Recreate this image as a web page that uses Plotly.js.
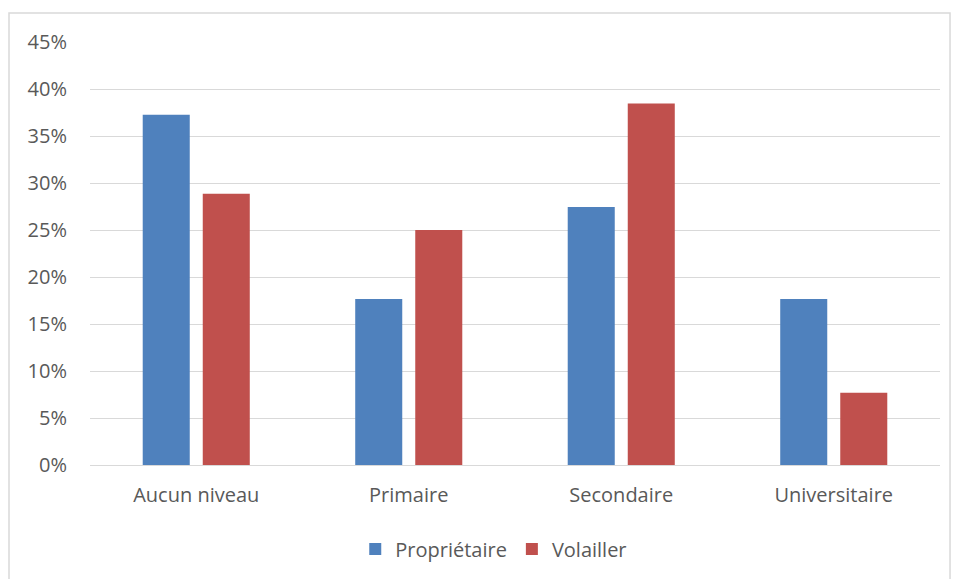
<!DOCTYPE html>
<html>
<head>
<meta charset="utf-8">
<script src="https://cdn.plot.ly/plotly-3.0.1.min.js"></script>
<style>
html,body{margin:0;padding:0;background:#fff;}
#chart{width:956px;height:579px;}
</style>
</head>
<body>
<div id="chart"></div>
<script>
const categories = ["Aucun niveau", "Primaire", "Secondaire", "Universitaire"];
const proprietaire = [0.3725, 0.1765, 0.2745, 0.1765];
const volailler = [0.2885, 0.25, 0.3846, 0.0769];
const seriesNames = ["Propriétaire", "Volailler"];
const tickVals = [0, 0.05, 0.10, 0.15, 0.20, 0.25, 0.30, 0.35, 0.40, 0.45];
const tickText = ["0%", "5%", "10%", "15%", "20%", "25%", "30%", "35%", "40%", "45%"];

const font = {family: "Open Sans, Liberation Sans, sans-serif", size: 20, color: "#595959"};

const data = [
  {type: "bar", x: categories, y: proprietaire, name: seriesNames[0],
   marker: {color: "#4F81BD"}, hoverinfo: "none"},
  {type: "bar", x: categories, y: volailler, name: seriesNames[1],
   marker: {color: "#C0504D"}, hoverinfo: "none"}
];

const layout = {
  width: 956, height: 579,
  margin: {l: 90, r: 16, t: 42, b: 113},
  paper_bgcolor: "#fff", plot_bgcolor: "#fff",
  font: font,
  barmode: "group",
  bargap: 0.435,
  bargroupgap: 0.2165,
  showlegend: true,
  legend: {orientation: "h", x: 0.475, xanchor: "center", y: -0.196, yanchor: "middle",
           font: font, itemwidth: 30, traceorder: "normal"},
  xaxis: {showgrid: false, zeroline: false, showline: false, ticks: "",
          ticklabelstandoff: 16, tickfont: font},
  yaxis: {range: [0, 0.45], tickvals: tickVals, ticktext: tickText,
          showgrid: true, gridcolor: "#d9d9d9", gridwidth: 1,
          zeroline: true, zerolinecolor: "#d9d9d9", zerolinewidth: 1,
          showline: false, ticks: "", ticklabelstandoff: 22, tickfont: font},
  shapes: [{type: "rect", xref: "paper", yref: "paper",
            x0: -0.0953, x1: 1.0118, y0: -0.35, y1: 1.0684,
            line: {color: "#d9d9d9", width: 1.5}, fillcolor: "rgba(0,0,0,0)", layer: "below"}]
};

Plotly.newPlot("chart", data, layout, {staticPlot: true, displayModeBar: false});
</script>
</body>
</html>
